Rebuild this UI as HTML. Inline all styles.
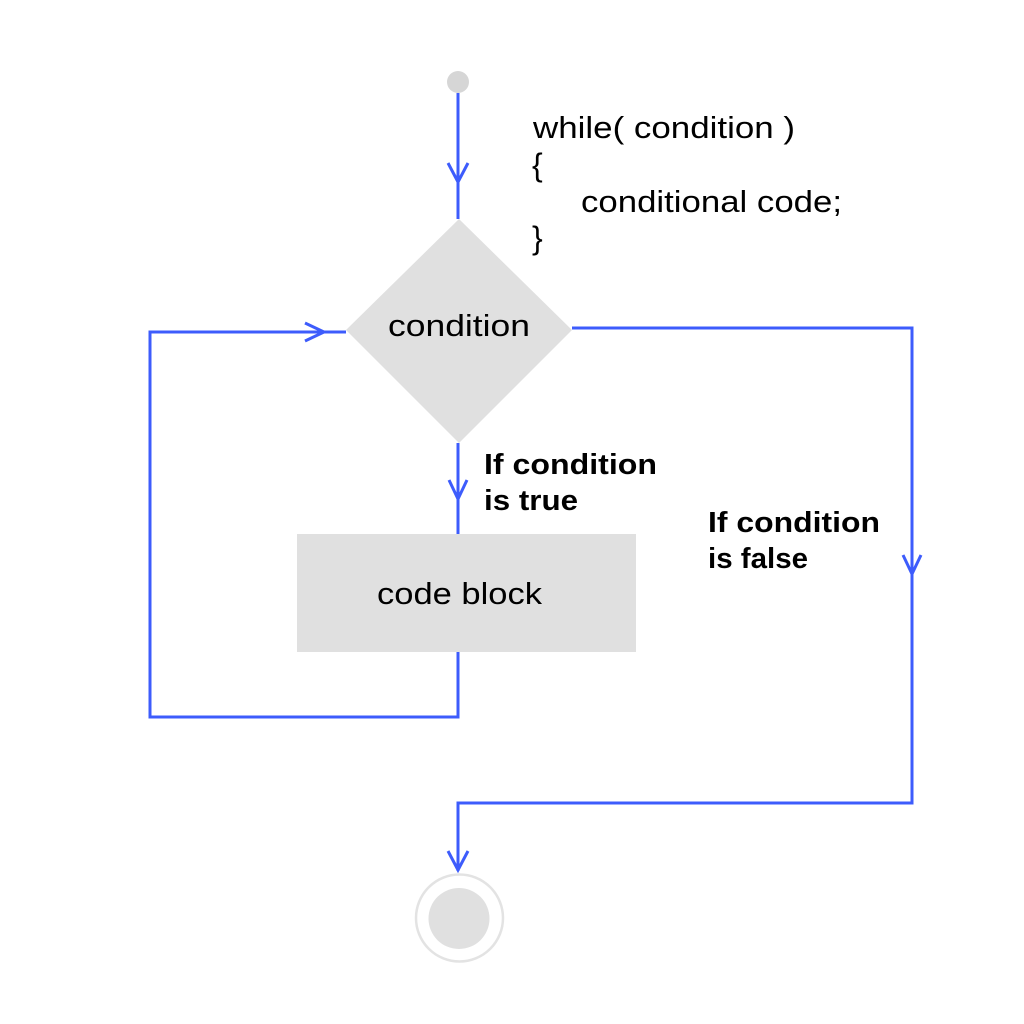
<!DOCTYPE html>
<html>
<head>
<meta charset="utf-8">
<style>
html,body{margin:0;padding:0;background:#fff;}
svg{display:block;}
text{font-family:"Liberation Sans",sans-serif;fill:#000;}
</style>
</head>
<body>
<svg width="1024" height="1024" viewBox="0 0 1024 1024" xmlns="http://www.w3.org/2000/svg">
  <rect width="1024" height="1024" fill="#fff"/>
  <!-- start node -->
  <circle cx="458" cy="82" r="11" fill="#d6d6d6"/>
  <!-- diamond -->
  <polygon points="459,219 572,330 459,443 346,330" fill="#e0e0e0"/>
  <!-- code block -->
  <rect x="297" y="534" width="339" height="118" fill="#e0e0e0"/>
  <!-- end node -->
  <circle cx="459.5" cy="918" r="43.5" fill="none" stroke="#e3e3e3" stroke-width="2.5"/>
  <circle cx="459" cy="918.5" r="30.5" fill="#e0e0e0"/>

  <g fill="none" stroke="#3d5cfc" stroke-width="3">
    <!-- start to diamond -->
    <line x1="458" y1="93" x2="458" y2="219"/>
    <polyline points="448,163 458,182 468,163"/>
    <!-- diamond to code block -->
    <line x1="458" y1="443" x2="458" y2="534"/>
    <polyline points="449,480 458,499 467,480"/>
    <!-- loop back -->
    <polyline points="458,652 458,717 150,717 150,332 346,332"/>
    <polyline points="305,323 324,332 305,341"/>
    <!-- false branch -->
    <polyline points="572,328 912,328 912,803 458,803 458,871"/>
    <polyline points="903,555 912,574 921,555"/>
    <polyline points="448,851 458,870 468,851"/>
  </g>

  <!-- code text -->
  <text x="533" y="138" font-size="31" textLength="262" lengthAdjust="spacingAndGlyphs">while( condition )</text>
  <text x="532" y="176" font-size="32">{</text>
  <text x="581" y="212" font-size="31" textLength="261" lengthAdjust="spacingAndGlyphs">conditional code;</text>
  <text x="532" y="249" font-size="32">}</text>

  <!-- node labels -->
  <text x="388" y="336" font-size="31" textLength="142" lengthAdjust="spacingAndGlyphs">condition</text>
  <text x="377" y="604" font-size="31" textLength="165" lengthAdjust="spacingAndGlyphs">code block</text>

  <!-- edge labels -->
  <text x="484" y="474" font-size="29" font-weight="bold" textLength="173" lengthAdjust="spacingAndGlyphs">If condition</text>
  <text x="484" y="510" font-size="29" font-weight="bold" textLength="94" lengthAdjust="spacingAndGlyphs">is true</text>
  <text x="708" y="532" font-size="29" font-weight="bold" textLength="172" lengthAdjust="spacingAndGlyphs">If condition</text>
  <text x="708" y="568" font-size="29" font-weight="bold" textLength="100" lengthAdjust="spacingAndGlyphs">is false</text>
</svg>
</body>
</html>
